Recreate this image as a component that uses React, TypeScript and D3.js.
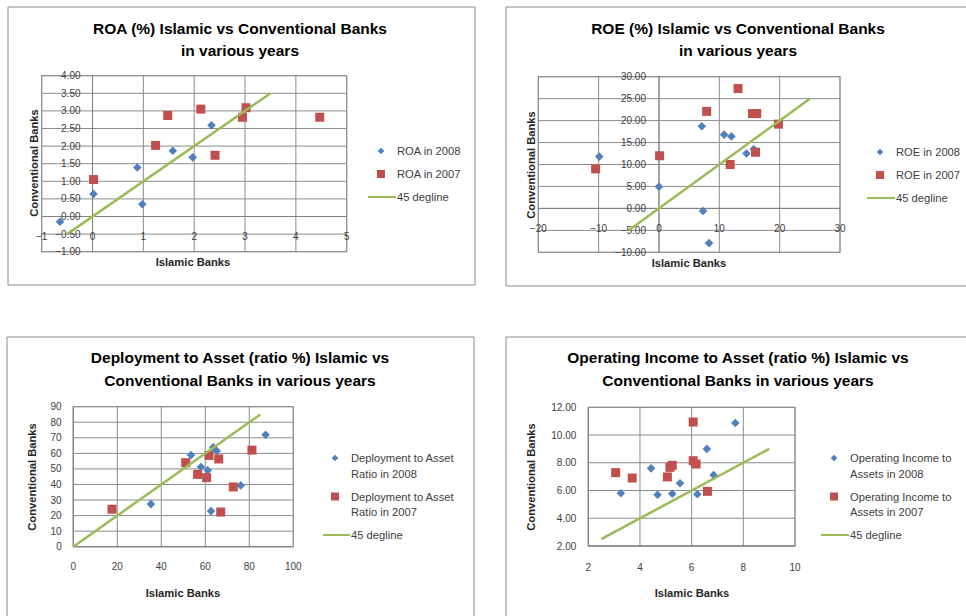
import React from "react";
import * as d3 from "d3";

// ---------- data ----------
// ROA (%): [Islamic, Conventional]
const roa2008: [number, number][] = [
  [-0.64, -0.15], [0.02, 0.64], [0.88, 1.39], [0.98, 0.35], [1.58, 1.87], [1.97, 1.68], [2.34, 2.59],
];
const roa2007: [number, number][] = [
  [0.02, 1.05], [1.24, 2.02], [1.48, 2.87], [2.13, 3.05], [2.41, 1.74], [2.95, 2.82], [3.02, 3.09], [4.47, 2.82],
];
const roaLine: [number, number][] = [[-0.5, -0.5], [3.5, 3.5]];

// ROE (%)
const roe2008: [number, number][] = [
  [-9.9, 11.8], [0, 4.95], [7.1, 18.7], [7.3, -0.6], [8.3, -7.9], [10.8, 16.8], [12.0, 16.4], [14.5, 12.5], [15.7, 13.5],
];
const roe2007: [number, number][] = [
  [-10.5, 9.0], [0.1, 12.0], [7.9, 22.1], [13.1, 27.3], [11.8, 10.0], [15.5, 21.6], [16.2, 21.6], [16.0, 12.8], [19.8, 19.2],
];
const roeLine: [number, number][] = [[-5, -5], [25, 25]];

// Deployment to Asset ratio (%)
const dep2008: [number, number][] = [
  [35.3, 27.4], [53.5, 58.9], [58.0, 51.2], [61.1, 49.1], [63.6, 63.9], [65.2, 61.5], [62.6, 22.9], [76.1, 39.4], [87.4, 72.0],
];
const dep2007: [number, number][] = [
  [17.6, 24.1], [51.1, 54.0], [56.5, 46.5], [60.6, 44.4], [61.7, 58.7], [66.1, 56.4], [67.0, 22.3], [72.7, 38.4], [81.2, 62.1],
];
const depLine: [number, number][] = [[0, 0], [85, 85]];

// Operating income to asset ratio (%)
const opi2008: [number, number][] = [
  [3.26, 5.8], [4.43, 7.6], [4.68, 5.7], [5.25, 5.77], [5.55, 6.52], [6.22, 5.73], [6.59, 9.0], [6.85, 7.12], [7.69, 10.87],
];
const opi2007: [number, number][] = [
  [3.06, 7.29], [3.7, 6.9], [5.06, 6.98], [5.16, 7.67], [5.25, 7.82], [6.06, 10.94], [6.06, 8.15], [6.17, 7.91], [6.61, 5.94],
];
const opiLine: [number, number][] = [[2.5, 2.5], [9, 9]];

// tick values
const roaXTicks = [-1, 0, 1, 2, 3, 4, 5];
const roaYTicks = [-1, -0.5, 0, 0.5, 1, 1.5, 2, 2.5, 3, 3.5, 4];
const roeXTicks = [-20, -10, 0, 10, 20, 30];
const roeYTicks = [-10, -5, 0, 5, 10, 15, 20, 25, 30];
const depXTicks = [0, 20, 40, 60, 80, 100];
const depYTicks = [0, 10, 20, 30, 40, 50, 60, 70, 80, 90];
const opiXTicks = [2, 4, 6, 8, 10];
const opiYTicks = [2, 4, 6, 8, 10, 12];

const BLUE = "#4F81BD";
const RED = "#C0504D";
const GREEN = "#9BBB59";
const GRID = "#8c8c8c";
const FONT = "'Liberation Sans', Arial, sans-serif";
const TEXT = "#404040";
const LEGEND_FS = 11.2;
const AXIS_TITLE_FS = 11.2;
const TITLE_FS = 15.5;

type PanelProps = {
  box: [number, number, number, number]; // frame x0, y0, x1, y1
  plot: [number, number, number, number]; // plot left, right, top, bottom
  title: string[];
  titleCx: number;
  titleY: number[];
  xDomain: [number, number];
  yDomain: [number, number];
  xTicks: number[];
  yTicks: number[];
  yFmt: (v: number) => string;
  crossAtZero: boolean;
  s2008: [number, number][];
  s2007: [number, number][];
  line: [number, number][];
  legend: { x: number; textX: number; rows: { text: string[]; y: number }[]; lineY: number; lineX0: number };
  yTitle: { x: number; y: number };
  xTitle: { x: number; y: number };
  xLabelDy: number;
  yLabelDx: number;
  frameSides: { right: boolean; bottom: boolean };
};

function Diamond({ x, y, r }: { x: number; y: number; r: number }) {
  return <path d={`M${x},${y - r}L${x + r},${y}L${x},${y + r}L${x - r},${y}Z`} fill={BLUE} />;
}
function Square({ x, y, s }: { x: number; y: number; s: number }) {
  return <rect x={x - s / 2} y={y - s / 2} width={s} height={s} fill={RED} />;
}

function Panel(p: PanelProps) {
  const [l, r, t, b] = p.plot;
  const x = d3.scaleLinear().domain(p.xDomain).range([l, r]);
  const y = d3.scaleLinear().domain(p.yDomain).range([b, t]);
  const axisY = p.crossAtZero ? y(0) : b;
  const axisX = p.crossAtZero ? x(0) : l;
  const lineGen = d3.line<[number, number]>().x((d) => x(d[0])).y((d) => y(d[1]));
  const [fx0, fy0, fx1, fy1] = p.box;
  return (
    <g>
      {/* frame */}
      <line x1={fx0} y1={fy0} x2={fx1} y2={fy0} stroke="#8a8a8a" />
      <line x1={fx0} y1={fy0} x2={fx0} y2={fy1} stroke="#8a8a8a" />
      {p.frameSides.right && <line x1={fx1} y1={fy0} x2={fx1} y2={fy1} stroke="#8a8a8a" />}
      {p.frameSides.bottom && <line x1={fx0} y1={fy1} x2={fx1} y2={fy1} stroke="#8a8a8a" />}

      {/* title */}
      {p.title.map((s, i) => (
        <text key={i} x={p.titleCx} y={p.titleY[i]} textAnchor="middle" fontFamily={FONT} fontWeight="bold" fontSize={TITLE_FS} fill="#000">
          {s}
        </text>
      ))}

      {/* grid */}
      {p.xTicks.map((v) => (
        <line key={"gx" + v} x1={x(v)} x2={x(v)} y1={t} y2={b} stroke={GRID} strokeWidth={1} />
      ))}
      {p.yTicks.map((v) => (
        <line key={"gy" + v} x1={l} x2={r} y1={y(v)} y2={y(v)} stroke={GRID} strokeWidth={1} />
      ))}
      <rect x={l} y={t} width={r - l} height={b - t} fill="none" stroke={GRID} />
      <line x1={l} x2={r} y1={axisY} y2={axisY} stroke="#808080" />
      <line x1={axisX} x2={axisX} y1={t} y2={b} stroke="#808080" />

      {/* tick labels */}
      {p.yTicks.map((v) => (
        <text key={"ty" + v} x={axisX - p.yLabelDx} y={y(v) + 3.5} textAnchor="end" fontFamily={FONT} fontSize={10} fill={TEXT}>
          {p.yFmt(v)}
        </text>
      ))}
      {p.xTicks.map((v) => (
        <text key={"tx" + v} x={x(v)} y={axisY + p.xLabelDy} textAnchor="middle" fontFamily={FONT} fontSize={10} fill={TEXT}>
          {d3.format("d")(v)}
        </text>
      ))}

      {/* axis titles */}
      <text
        transform={`translate(${p.yTitle.x},${p.yTitle.y}) rotate(-90)`}
        textAnchor="middle"
        fontFamily={FONT}
        fontWeight="bold"
        fontSize={AXIS_TITLE_FS}
        fill="#262626"
      >
        Conventional Banks
      </text>
      <text x={p.xTitle.x} y={p.xTitle.y} textAnchor="middle" fontFamily={FONT} fontWeight="bold" fontSize={AXIS_TITLE_FS} fill="#262626">
        Islamic Banks
      </text>

      {/* series */}
      {p.s2008.map((d, i) => (
        <Diamond key={"b" + i} x={x(d[0])} y={y(d[1])} r={4.3} />
      ))}
      {p.s2007.map((d, i) => (
        <Square key={"r" + i} x={x(d[0])} y={y(d[1])} s={9} />
      ))}
      <path d={lineGen(p.line) || ""} fill="none" stroke={GREEN} strokeWidth={2.5} />

      {/* legend */}
      <Diamond x={p.legend.x} y={p.legend.rows[0].y - 4} r={3.3} />
      <Square x={p.legend.x} y={p.legend.rows[1].y - 4} s={8} />
      {p.legend.rows.map((row, i) =>
        row.text.map((s, j) => (
          <text key={`lg${i}-${j}`} x={p.legend.textX} y={row.y + j * 15.5} fontFamily={FONT} fontSize={LEGEND_FS} fill={TEXT}>
            {s}
          </text>
        ))
      )}
      <line x1={p.legend.lineX0} x2={p.legend.textX - 1} y1={p.legend.lineY - 4} y2={p.legend.lineY - 4} stroke={GREEN} strokeWidth={2} />
      <text x={p.legend.textX} y={p.legend.lineY} fontFamily={FONT} fontSize={LEGEND_FS} fill={TEXT}>
        45 degline
      </text>
    </g>
  );
}

const f2 = d3.format(".2f");
const fInt = d3.format("d");

export default function App() {
  return (
    <svg width={966} height={616} style={{ position: "absolute", left: 0, top: 0, background: "#fff" }} fontFamily={FONT}>
      <rect width={966} height={616} fill="#fff" />
      <Panel
        box={[8, 7, 475, 285]}
        plot={[41.7, 346.7, 75.7, 251.7]}
        title={["ROA (%) Islamic vs Conventional Banks", "in various years"]}
        titleCx={240}
        titleY={[33.5, 55.5]}
        xDomain={[-1, 5]}
        yDomain={[-1, 4]}
        xTicks={roaXTicks}
        yTicks={roaYTicks}
        yFmt={f2}
        crossAtZero={true}
        s2008={roa2008}
        s2007={roa2007}
        line={roaLine}
        legend={{ x: 381, textX: 397, rows: [{ text: ["ROA in 2008"], y: 155 }, { text: ["ROA in 2007"], y: 178 }], lineY: 201, lineX0: 368 }}
        yTitle={{ x: 37.5, y: 163 }}
        xTitle={{ x: 193, y: 266 }}
        xLabelDy={23}
        yLabelDx={12}
        frameSides={{ right: true, bottom: true }}
      />
      <Panel
        box={[506, 7, 990, 286]}
        plot={[538.3, 840, 76.7, 252.3]}
        title={["ROE (%) Islamic vs Conventional Banks", "in various years"]}
        titleCx={738}
        titleY={[33.5, 55.5]}
        xDomain={[-20, 30]}
        yDomain={[-10, 30]}
        xTicks={roeXTicks}
        yTicks={roeYTicks}
        yFmt={f2}
        crossAtZero={true}
        s2008={roe2008}
        s2007={roe2007}
        line={roeLine}
        legend={{ x: 880, textX: 896, rows: [{ text: ["ROE in 2008"], y: 156 }, { text: ["ROE in 2007"], y: 179 }], lineY: 202, lineX0: 867 }}
        yTitle={{ x: 534.5, y: 165 }}
        xTitle={{ x: 689, y: 267 }}
        xLabelDy={24}
        yLabelDx={13}
        frameSides={{ right: false, bottom: true }}
      />
      <Panel
        box={[7, 337, 474, 630]}
        plot={[73.3, 293.3, 406.7, 546.7]}
        title={["Deployment to Asset (ratio %) Islamic vs", "Conventional Banks in various years"]}
        titleCx={240}
        titleY={[363, 386]}
        xDomain={[0, 100]}
        yDomain={[0, 90]}
        xTicks={depXTicks}
        yTicks={depYTicks}
        yFmt={fInt}
        crossAtZero={false}
        s2008={dep2008}
        s2007={dep2007}
        line={depLine}
        legend={{
          x: 335,
          textX: 351,
          rows: [
            { text: ["Deployment to Asset", "Ratio in 2008"], y: 462 },
            { text: ["Deployment to Asset", "Ratio in 2007"], y: 500.5 },
          ],
          lineY: 539,
          lineX0: 323,
        }}
        yTitle={{ x: 36, y: 477 }}
        xTitle={{ x: 183, y: 597 }}
        xLabelDy={23.5}
        yLabelDx={11.6}
        frameSides={{ right: true, bottom: false }}
      />
      <Panel
        box={[506, 337, 990, 630]}
        plot={[588.3, 795, 407.3, 546]}
        title={["Operating Income to Asset (ratio %) Islamic vs", "Conventional Banks in various years"]}
        titleCx={738}
        titleY={[363, 386]}
        xDomain={[2, 10]}
        yDomain={[2, 12]}
        xTicks={opiXTicks}
        yTicks={opiYTicks}
        yFmt={f2}
        crossAtZero={false}
        s2008={opi2008}
        s2007={opi2007}
        line={opiLine}
        legend={{
          x: 834,
          textX: 850,
          rows: [
            { text: ["Operating Income to", "Assets in 2008"], y: 462 },
            { text: ["Operating Income to", "Assets in 2007"], y: 500.5 },
          ],
          lineY: 539,
          lineX0: 821,
        }}
        yTitle={{ x: 535, y: 477 }}
        xTitle={{ x: 692, y: 597 }}
        xLabelDy={25}
        yLabelDx={12}
        frameSides={{ right: false, bottom: false }}
      />
    </svg>
  );
}
